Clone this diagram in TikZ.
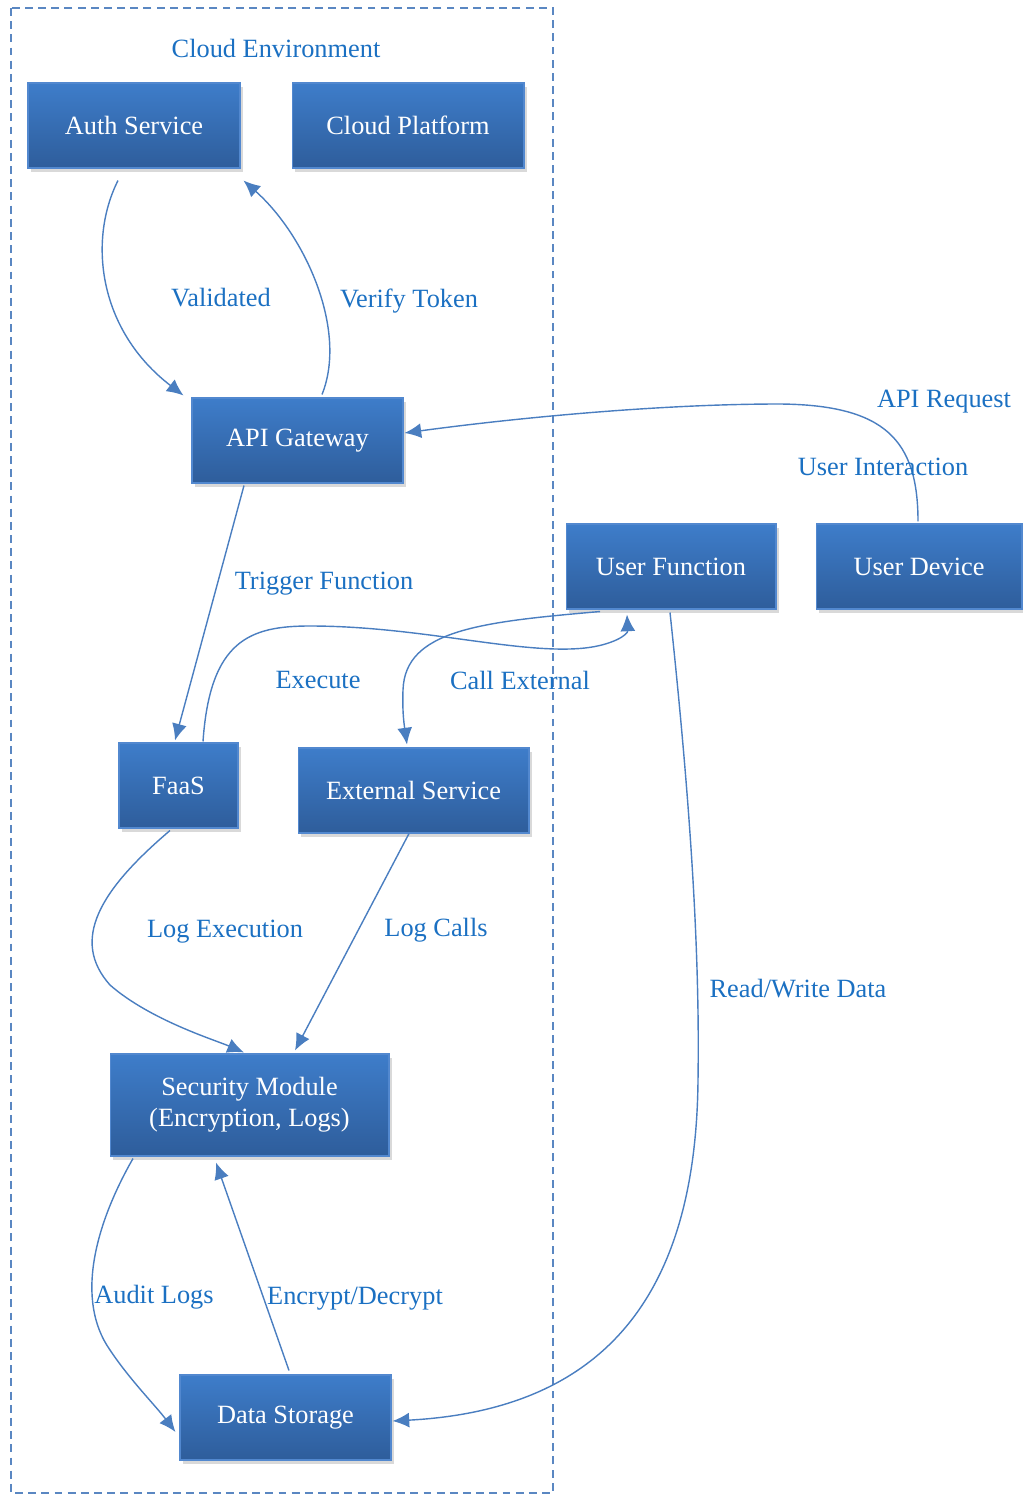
\documentclass[tikz,border=0pt]{standalone}
\usepackage{fontspec}
\setmainfont{Liberation Serif}
\usepackage{tikz}
\usetikzlibrary{arrows.meta, shadows, calc}
\definecolor{boxtop}{HTML}{3E7DCA}
\definecolor{boxbot}{HTML}{2E5D9B}
\definecolor{boxline}{HTML}{5288CF}
\definecolor{wire}{HTML}{4A7EC0}
\definecolor{lbl}{HTML}{1B70C2}
\definecolor{frame}{HTML}{5A87C2}
\tikzset{
  svcbox/.style={rectangle, draw=boxline, line width=0.6pt, top color=boxtop, bottom color=boxbot, text=white, align=center, minimum height=1.7cm, inner sep=0pt, font=\fontsize{15}{17.5}\selectfont, drop shadow={shadow xshift=1.8pt, shadow yshift=-2pt, opacity=0.3}},
  edgelbl/.style={text=lbl, font=\fontsize{15}{17}\selectfont, inner sep=0pt},
  flow/.style={wire, line width=0.8pt, -{Latex[length=9.5pt,width=8.5pt]}}
}
\begin{document}
\begin{tikzpicture}[x=0.02cm, y=-0.02cm]

  \useasboundingbox (0,0) rectangle (1022,1496);

  % --- Marco de la nube ---
  \draw[frame, line width=0.9pt, dash pattern=on 4.5pt off 3pt] (11,8) rectangle (553,1493);
  \node[edgelbl] (cloudlbl) at (276,48) {Cloud Environment};

  % --- Cajas ---
  \node[svcbox, minimum width=4.24cm] (auth) at (134,125.5) {Auth Service};
  \node[svcbox, minimum width=4.64cm] (platform) at (408,125.5) {Cloud Platform};
  \node[svcbox, minimum width=4.22cm] (gateway) at (297.5,440.5) {API Gateway};
  \node[svcbox, minimum width=4.2cm] (userfn) at (671,566.5) {User Function};
  \node[svcbox, minimum width=4.12cm] (device) at (919,566.5) {User Device};
  \node[svcbox, minimum width=2.38cm] (faas) at (178.5,785.5) {FaaS};
  \node[svcbox, minimum width=4.62cm] (external) at (413.5,790.5) {External Service};
  \node[svcbox, minimum width=5.58cm, minimum height=2.04cm] (security) at (249.5,1105) {Security Module\\(Encryption, Logs)};
  \node[svcbox, minimum width=4.22cm] (storage) at (285.5,1417.5) {Data Storage};

  % --- Conexiones ---
  \draw[flow] ([shift={(-16,12)}]auth.south) .. controls (88,240) and (98,330) .. ([shift={(-8,-2)}]gateway.north west);
  \draw[flow] ([shift={(24.5,-3)}]gateway.north) .. controls (348,330) and (305,235) .. ([shift={(3,12)}]auth.south east);
  \draw[flow] ([shift={(-1,-2)}]device.north) .. controls (918,440) and (885,405) .. (780,404)
     .. controls (650,404) and (500,420) .. ([shift={(1,-7.5)}]gateway.east);
  \draw[flow] ([shift={(-53.5,2)}]gateway.south) -- ([shift={(-3.5,-2)}]faas.north);
  \draw[flow] ([shift={(24.5,-1)}]faas.north) .. controls (210,640) and (250,626) .. (310,626)
     .. controls (420,626) and (520,655) .. (585,648) .. controls (612,645) and (628,635) .. ([shift={(-44,5)}]userfn.south);
  \draw[flow] ([shift={(-71,2)}]userfn.south) .. controls (480,622) and (405,630) .. (403,690)
     .. controls (402,715) and (405,730) .. ([shift={(-6.5,-3)}]external.north);
  \draw[flow] ([shift={(-8.5,2)}]faas.south) .. controls (100,890) and (70,940) .. (110,985)
     .. controls (150,1020) and (215,1040) .. ([shift={(-5.5,-1)}]security.north);
  \draw[flow] ([shift={(-4.5,0)}]external.south) -- ([shift={(45.5,-3)}]security.north);
  \draw[flow] ([shift={(-1,3)}]userfn.south) .. controls (690,800) and (700,950) .. (698,1080)
     .. controls (696,1300) and (600,1410) .. ([shift={(1,3.5)}]storage.east);
  \draw[flow] ([shift={(-116.5,2)}]security.south) .. controls (95,1225) and (75,1300) .. (110,1350)
     .. controls (130,1380) and (155,1405) .. ([shift={(-4,14.5)}]storage.west);
  \draw[flow] ([shift={(3.5,-4)}]storage.north) -- ([shift={(-33.5,6)}]security.south);

  % --- Etiquetas ---
  \node[edgelbl] (lvalid) at (221,298) {Validated};
  \node[edgelbl] (lverify) at (409,301) {Verify Token};
  \node[edgelbl] (lapireq) at (944,402) {API Request};
  \node[edgelbl] (luser) at (883,467) {User Interaction};
  \node[edgelbl] (ltrigger) at (324,584) {Trigger Function};
  \node[edgelbl] (lexec) at (318,680) {Execute};
  \node[edgelbl] (lcall) at (520,680) {Call External};
  \node[edgelbl] (llogexec) at (225,932) {Log Execution};
  \node[edgelbl] (llogcalls) at (436,930) {Log Calls};
  \node[edgelbl] (lrw) at (798,989) {Read/Write Data};
  \node[edgelbl] (laudit) at (154,1297) {Audit Logs};
  \node[edgelbl] (lcrypt) at (355,1299) {Encrypt/Decrypt};

\end{tikzpicture}
\end{document}
